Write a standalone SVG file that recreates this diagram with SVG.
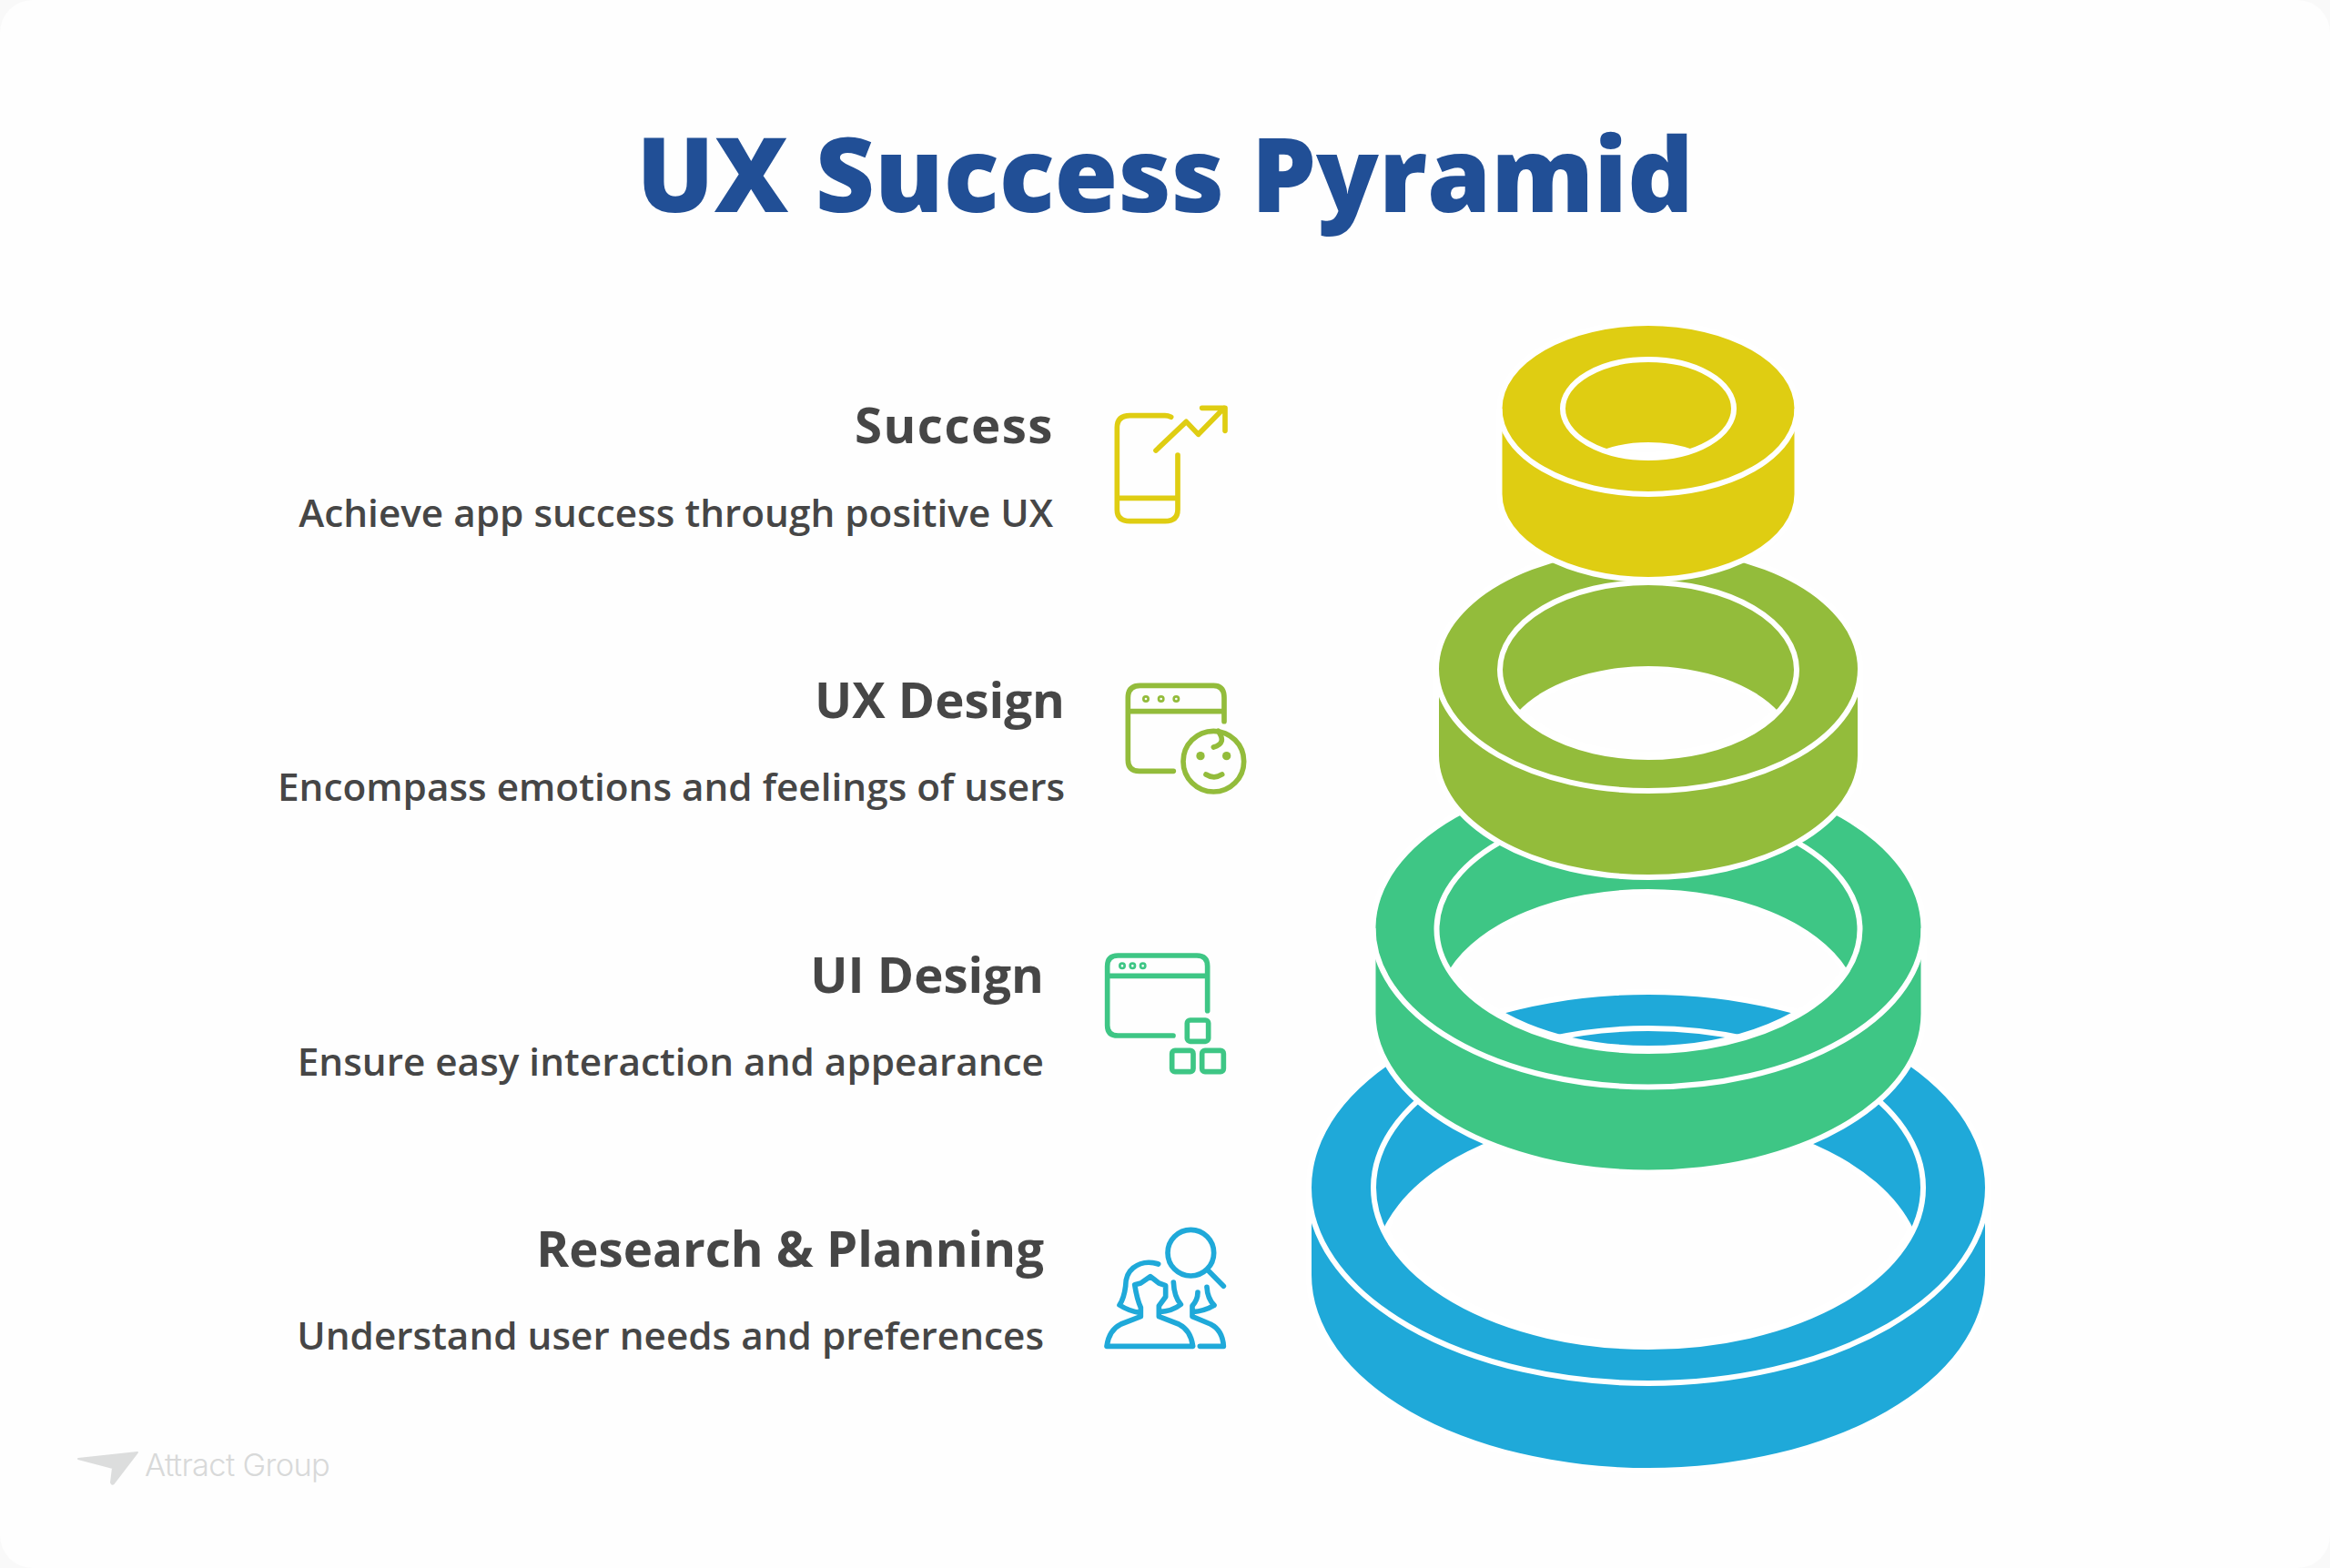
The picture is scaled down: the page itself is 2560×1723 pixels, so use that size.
<svg xmlns="http://www.w3.org/2000/svg" width="2560" height="1723" viewBox="0 0 2560 1723">
<style>
.t{font-family:"Open Sans","Noto Sans",sans-serif;text-anchor:end;fill:#464646}
.h{font-size:54.6px;font-weight:700}
.d{font-size:42.3px;font-weight:600}
.body{stroke:#fff;stroke-width:12;paint-order:stroke;fill-rule:evenodd}
.line{fill:none;stroke:#fff;stroke-width:6}
.ic{fill:none;stroke-width:17;stroke-linecap:round;stroke-linejoin:round}
</style>
<rect width="2560" height="1723" fill="#f9f9f9"/>
<rect width="2560" height="1723" rx="36" fill="#fefefe"/>
<text id="title" x="1280" y="233" text-anchor="middle" font-family="'Open Sans','Noto Sans',sans-serif" font-weight="800" font-size="113" fill="#214f96">UX Success Pyramid</text>
<g id="ring-research">
<path class="body" fill="#1fa9d9" d="M1441,1305A370,212 0 0 1 2181,1305L2181,1401A370,212 0 0 1 1441,1401ZM1519.6,1351A302,175 0 0 1 2102.4,1351A302,175 0 0 1 1519.6,1351Z"/>
<ellipse class="line" cx="1811" cy="1305" rx="302" ry="175"/>
<path class="line" d="M2184,1305A373,215 0 0 1 1438,1305"/>
</g>
<g id="ring-ui">
<path class="body" fill="#3ec685" d="M1511.5,1020A299.5,171.5 0 0 1 2110.5,1020L2110.5,1114A299.5,171.5 0 0 1 1511.5,1114ZM1592,1066A232.5,134 0 0 1 2030,1066A232.5,134 0 0 1 1592,1066Z"/>
<ellipse class="line" cx="1811" cy="1021" rx="232.5" ry="134"/>
<path class="line" d="M2113.5,1020A302.5,174.5 0 0 1 1508.5,1020"/>
</g>
<g id="ring-ux">
<path class="body" fill="#93bc3b" d="M1581,735A230,131 0 0 1 2041,735L2041,830A230,131 0 0 1 1581,830ZM1668,782A163,96 0 0 1 1954,782A163,96 0 0 1 1668,782Z"/>
<ellipse class="line" cx="1811" cy="736" rx="163" ry="96"/>
<path class="line" d="M2044,735A233,134 0 0 1 1578,735"/>
</g>
<g id="ring-success">
<path class="body" fill="#dfcd12" d="M1650.5,449A160.5,91 0 0 1 1971.5,449L1971.5,543A160.5,91 0 0 1 1650.5,543ZM1760.4,494.5A94,54 0 0 1 1861.6,494.5A94,54 0 0 1 1760.4,494.5Z"/>
<ellipse class="line" cx="1811" cy="449" rx="94" ry="54"/>
<path class="line" d="M1974.5,449A163.5,94 0 0 1 1647.5,449"/>
</g>
<g id="label-success">
<text class="t h" x="1158" y="487" letter-spacing="1.5">Success</text>
<text class="t d" x="1157" y="579">Achieve app success through positive UX</text>
</g>
<g id="label-ux">
<text class="t h" x="1170" y="789">UX Design</text>
<text class="t d" x="1170" y="880">Encompass emotions and feelings of users</text>
</g>
<g id="label-ui">
<text class="t h" x="1147" y="1091">UI Design</text>
<text class="t d" x="1147" y="1182">Ensure easy interaction and appearance</text>
</g>
<g id="label-research">
<text class="t h" x="1147" y="1392">Research &amp; Planning</text>
<text class="t d" x="1147" y="1483">Understand user needs and preferences</text>
</g>
<g id="icon-success" transform="translate(1190,420) scale(.33333)">
<path class="ic" stroke="#dfcd12" d="M290,115Q280,110 270,110L155,110Q112,110 112,150L112,420Q112,458 155,458L270,458Q312,458 312,420L312,240M112,382L312,382M240,225L340,130L380,172L465,85M392,85L468,85L468,160"/>
</g>
<g id="icon-ux" transform="translate(1190,420) scale(.33333)">
<path class="ic" stroke="#93bc3b" d="M298,1282L185,1282Q148,1282 148,1245L148,1040Q148,1000 188,1000L430,1000Q465,1000 465,1040L465,1118M148,1085L465,1085M445,1150Q475,1190 430,1203M405,1293Q432,1310 458,1293"/>
<circle class="ic" stroke="#93bc3b" cx="430" cy="1250" r="100"/>
<g fill="none" stroke="#93bc3b" stroke-width="8"><circle cx="207" cy="1044" r="8"/><circle cx="257" cy="1044" r="8"/><circle cx="307" cy="1044" r="8"/></g>
<g fill="#93bc3b"><circle cx="387" cy="1232" r="14"/><circle cx="473" cy="1232" r="14"/></g>
</g>
<g id="icon-ui" transform="translate(1190,1020) scale(.33333)">
<path class="ic" stroke="#3ec685" d="M297,354L115,354Q80,354 80,320L80,125Q80,90 115,90L375,90Q410,90 410,125L410,272M80,157L410,157"/>
<g class="ic" stroke="#3ec685"><rect x="343" y="303" width="70" height="70" rx="10"/><rect x="293" y="403" width="70" height="70" rx="10"/><rect x="392" y="403" width="71" height="70" rx="10"/></g>
<g fill="none" stroke="#3ec685" stroke-width="8"><circle cx="129" cy="124" r="8"/><circle cx="163" cy="124" r="8"/><circle cx="197" cy="124" r="8"/></g>
</g>
<g id="icon-research" transform="translate(1190,1020) scale(.33333)">
<circle class="ic" stroke="#1fa9d9" cx="355" cy="1070" r="76"/>
<path class="ic" stroke="#1fa9d9" d="M412,1128L463,1180M248,1107Q200,1092 165,1120Q140,1140 140,1180Q135,1220 120,1242Q150,1262 190,1268M78,1378Q85,1325 125,1305L190,1280L190,1250Q178,1225 170,1175L190,1170L222,1148L250,1170L272,1178L272,1215L250,1245L250,1280L315,1305Q355,1325 362,1378L78,1378M298,1167Q300,1215 322,1240Q295,1262 250,1265M408,1183Q410,1220 432,1243Q400,1262 360,1265M378,1200Q378,1225 360,1245L360,1280L420,1305Q460,1325 463,1378L385,1378"/>
</g>
<g id="logo">
<path d="M86,1603L151,1596L125,1630Q123,1632 122,1629L124,1613Z" fill="#dcdddd" stroke="#dcdddd" stroke-width="2" stroke-linejoin="round"/>
<text x="159" y="1622" font-family="Inter,'Liberation Sans',sans-serif" font-size="34.5" font-weight="300" letter-spacing="-0.7" fill="#d8d9d9">Attract Group</text>
</g>
</svg>
